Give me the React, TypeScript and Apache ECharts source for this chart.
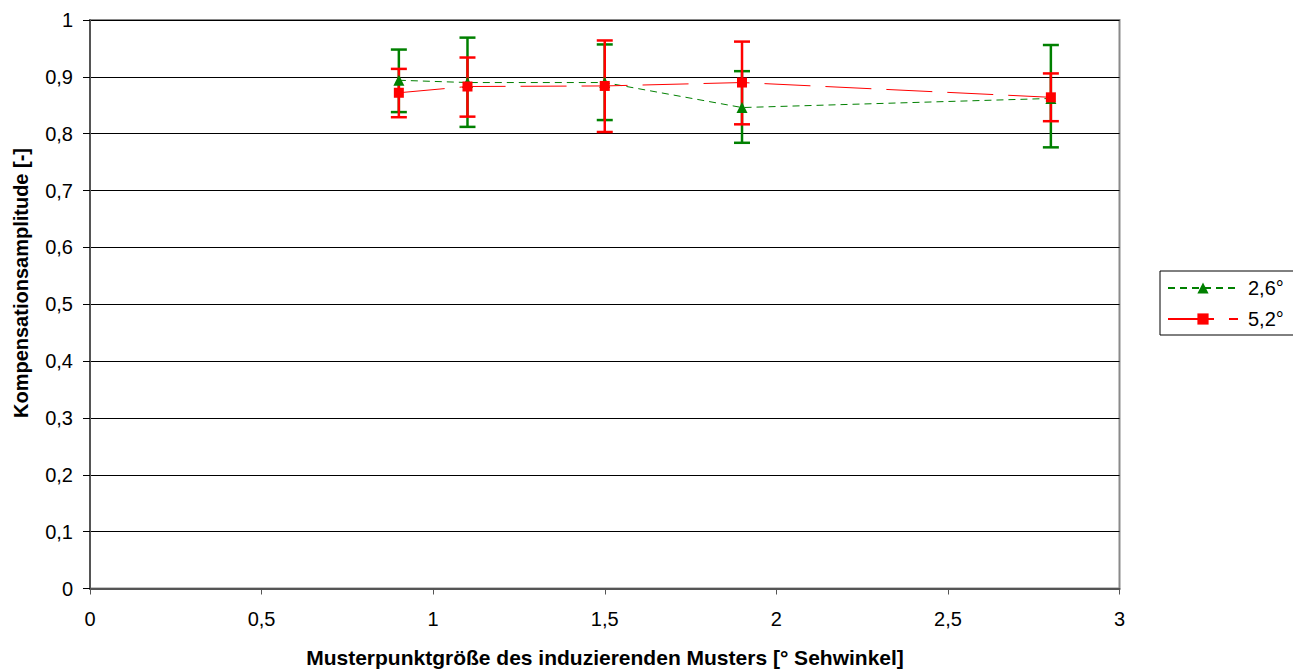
import React, { useEffect, useRef } from "react";
import * as echarts from "echarts";

const xValues = [0.9, 1.1, 1.5, 1.9, 2.8];
const green26 = [0.894, 0.89, 0.89, 0.846, 0.862];
const green26Low = [0.838, 0.812, 0.824, 0.784, 0.776];
const green26High = [0.948, 0.969, 0.957, 0.91, 0.956];
const red52 = [0.872, 0.883, 0.884, 0.89, 0.864];
const red52Low = [0.829, 0.83, 0.803, 0.8165, 0.822];
const red52High = [0.914, 0.934, 0.964, 0.962, 0.906];

const seriesNames = ["2,6°", "5,2°"];
const xTitle = "Musterpunktgröße des induzierenden Musters [° Sehwinkel]";
const yTitle = "Kompensationsamplitude [-]";

const fmt = (v: number) => String(Math.round(v * 10) / 10).replace(".", ",");

function errSeries(color: string, low: number[], high: number[]) {
  return {
    type: "custom",
    silent: true,
    data: xValues.map((x, i) => [x, low[i], high[i]]),
    encode: { x: 0, y: [1, 2] },
    renderItem: (params: any, api: any) => {
      const x = api.value(0);
      const lo = api.coord([x, api.value(1)]);
      const hi = api.coord([x, api.value(2)]);
      const hw = 8;
      const style = { stroke: color, lineWidth: 2.5 };
      return {
        type: "group",
        children: [
          { type: "line", shape: { x1: lo[0], y1: lo[1], x2: hi[0], y2: hi[1] }, style },
          { type: "line", shape: { x1: lo[0] - hw, y1: lo[1], x2: lo[0] + hw, y2: lo[1] }, style },
          { type: "line", shape: { x1: hi[0] - hw, y1: hi[1], x2: hi[0] + hw, y2: hi[1] }, style },
        ],
      };
    },
  };
}

export default function App() {
  const ref = useRef<HTMLDivElement>(null);
  useEffect(() => {
    if (!ref.current) return;
    const chart = echarts.init(ref.current, null, { renderer: "svg" });
    const font = "'Liberation Sans', Arial, sans-serif";
    chart.setOption({
      animation: false,
      textStyle: { fontFamily: font },
      grid: {
        left: 90,
        right: 173.5,
        top: 20,
        bottom: 80.5,
        show: true,
        borderColor: "#8a8a8a",
        borderWidth: 2,
        backgroundColor: "transparent",
      },
      graphic: [
        {
          type: "text",
          x: 605,
          y: 657,
          style: {
            text: xTitle,
            fontSize: 21,
            fontWeight: "bold",
            fontFamily: font,
            fill: "#000",
            align: "center",
            verticalAlign: "middle",
          },
        },
        {
          type: "text",
          x: 21,
          y: 283,
          rotation: Math.PI / 2,
          style: {
            text: yTitle,
            fontSize: 20,
            fontWeight: "bold",
            fontFamily: font,
            fill: "#000",
            align: "center",
            verticalAlign: "middle",
          },
        },
      ],
      legend: {
        orient: "vertical",
        left: 1160,
        top: 271,
        data: seriesNames,
        itemWidth: 70,
        itemHeight: 14,
        itemGap: 11,
        padding: [7, 30, 6, 7],
        borderColor: "#000",
        borderWidth: 1,
        textStyle: { fontSize: 20, color: "#000", fontFamily: font, padding: [0, 0, 0, 5] },
      },
      xAxis: {
        type: "value",
        min: 0,
        max: 3,
        interval: 0.5,
        axisLine: { onZero: false, lineStyle: { color: "#555", width: 2 } },
        axisTick: { show: true, length: 6, lineStyle: { color: "#555" } },
        axisLabel: { fontSize: 20, color: "#000", margin: 20, formatter: fmt },
        splitLine: { show: false },
      },
      yAxis: {
        type: "value",
        min: 0,
        max: 1,
        interval: 0.1,
        axisLine: { show: true, lineStyle: { color: "#555", width: 2 } },
        axisTick: { show: true, length: 7, lineStyle: { color: "#000" } },
        axisLabel: { fontSize: 20, color: "#000", margin: 17, formatter: fmt },
        splitLine: { show: true, lineStyle: { color: "#000", width: 1 } },
      },
      series: [
        errSeries("#008000", green26Low, green26High),
        errSeries("#ff0000", red52Low, red52High),
        {
          name: seriesNames[0],
          type: "line",
          data: xValues.map((x, i) => [x, green26[i]]),
          symbol: "triangle",
          symbolSize: 11,
          itemStyle: { color: "#008000" },
          lineStyle: { color: "#008000", width: 1, type: [7, 5] },
          z: 5,
        },
        {
          name: seriesNames[1],
          type: "line",
          data: xValues.map((x, i) => [x, red52[i]]),
          symbol: "rect",
          symbolSize: 10,
          itemStyle: { color: "#ff0000" },
          lineStyle: { color: "#ff0000", width: 1, type: [46, 15] },
          z: 6,
        },
      ],
    });
    return () => chart.dispose();
  }, []);
  return (
    <div
      ref={ref}
      style={{ position: "fixed", left: 0, top: 0, width: 1293, height: 669, background: "#fff" }}
    />
  );
}
